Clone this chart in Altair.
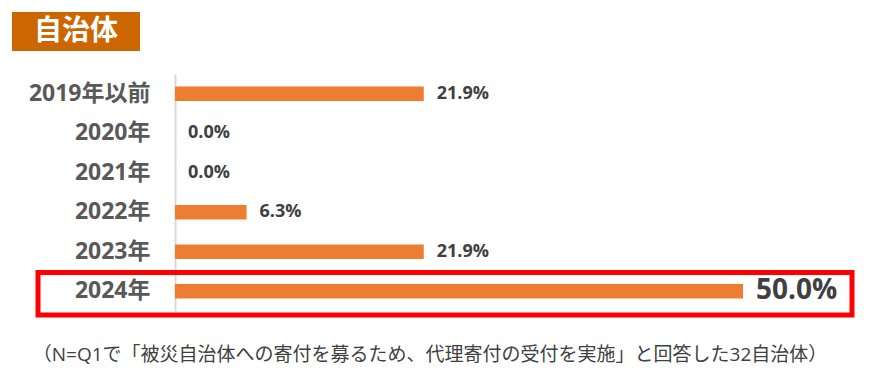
import altair as alt
import pandas as pd

categories = ["2019年以前", "2020年", "2021年", "2022年", "2023年", "2024年"]
values = [21.9, 0.0, 0.0, 6.3, 21.9, 50.0]
labels = ["21.9%", "0.0%", "0.0%", "6.3%", "21.9%", "50.0%"]
title_text = "自治体"
footnote = "（N=Q1で「被災自治体への寄付を募るため、代理寄付の受付を実施」と回答した32自治体）"
highlight = "2024年"

df = pd.DataFrame({"cat": categories, "val": values, "label": labels})
one = pd.DataFrame({"t": [title_text], "f": [footnote]})

FONT = "Open Sans, Noto Sans CJK JP, sans-serif"

y_enc = alt.Y(
    "cat:N",
    sort=categories,
    title=None,
    scale=alt.Scale(paddingInner=0.63, paddingOuter=0.315),
    axis=alt.Axis(
        ticks=False,
        grid=False,
        domainColor="#d9d9d9",
        domainWidth=2,
        labelFont=FONT,
        labelFontSize=23,
        labelFontWeight="bold",
        labelColor="#595959",
        labelPadding=25,
    ),
)
x_enc = alt.X("val:Q", scale=alt.Scale(domain=[0, 50], nice=False), axis=None)

bars = alt.Chart(df).mark_bar(color="#ED7D31").encode(x=x_enc, y=y_enc)

text = alt.Chart(df).mark_text(
    align="left", baseline="middle", dx=13, font=FONT, fontWeight="bold", color="#404040"
).encode(
    x=x_enc,
    y=alt.Y("cat:N", sort=categories),
    text="label:N",
    size=alt.condition(alt.datum.cat == highlight, alt.value(28), alt.value(18)),
)

box = alt.Chart(one).mark_rect(color="#CC6600").encode(
    x=alt.value(-163), x2=alt.value(-35), y=alt.value(-62), y2=alt.value(-23)
)
box_text = alt.Chart(one).mark_text(
    font=FONT, fontSize=28, fontWeight="bold", color="white", align="center", baseline="middle"
).encode(x=alt.value(-99), y=alt.value(-42), text="t:N")

hl = alt.Chart(one).mark_rect(fillOpacity=0, stroke="#FF0000", strokeWidth=5).encode(
    x=alt.value(-137), x2=alt.value(677), y=alt.value(198.5), y2=alt.value(241)
)

foot = alt.Chart(one).mark_text(
    font=FONT, fontSize=19, color="#404040", align="center", baseline="middle"
).encode(x=alt.value(255), y=alt.value(281), text="f:N")

chart = alt.layer(bars, text, box, box_text, hl, foot).properties(
    width=568,
    height=237,
    padding={"left": 167, "top": 66, "right": 134, "bottom": 71},
    autosize=alt.AutoSizeParams(type="none"),
).configure_view(stroke=None)

chart.save("out.html", embed_options={"renderer": "svg", "actions": False})
